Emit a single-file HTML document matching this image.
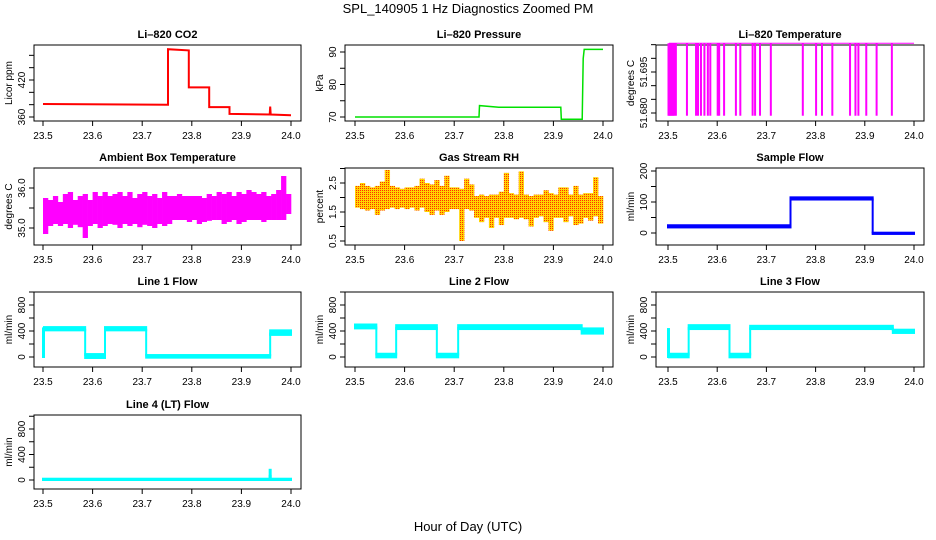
<!DOCTYPE html>
<html><head><meta charset="utf-8"><style>
html,body{margin:0;padding:0;background:#fff}
svg{display:block;font-family:"Liberation Sans",sans-serif}
</style></head><body>
<svg id="c" width="936" height="540" viewBox="0 0 936 540">
<defs>
<pattern id="rhpat" width="2" height="2" patternUnits="userSpaceOnUse">
<rect width="2" height="2" fill="#ffd400"/><rect width="1" height="1" fill="#ff3000"/>
</pattern>
</defs>
<text x="468" y="13" font-size="13" text-anchor="middle">SPL_140905  1 Hz Diagnostics Zoomed PM</text>
<text x="468" y="531" font-size="13" text-anchor="middle">Hour of Day (UTC)</text>
</svg>
<script>
// ---- data ----
const xTicks = [23.5, 23.6, 23.7, 23.8, 23.9, 24.0];
const xTickLabels = ["23.5", "23.6", "23.7", "23.8", "23.9", "24.0"];

const co2X = [23.5, 23.752, 23.752, 23.794, 23.794, 23.835, 23.835, 23.876, 23.876, 23.957, 23.958, 23.959, 24.0];
const co2Y = [381, 380, 470, 468, 408, 408, 376, 376, 365, 364, 377, 364, 363];

const presX = [23.5, 23.75, 23.751, 23.79, 23.915, 23.916, 23.958, 23.96, 23.962, 24.0];
const presY = [70, 70, 73.5, 73, 73, 69.3, 69.3, 88, 90.8, 90.8];

const tempTop = 51.7055;
const tempLow = 51.679;
const tempDrops = [23.501, 23.503, 23.505, 23.507, 23.509, 23.511, 23.513, 23.516, 23.5385, 23.557, 23.561, 23.567, 23.574, 23.581, 23.586, 23.601, 23.604, 23.614, 23.638, 23.647, 23.672, 23.677, 23.687, 23.709, 23.774, 23.801, 23.813, 23.834, 23.870, 23.881, 23.887, 23.903, 23.924, 23.955];

const ambLo = [34.85,35.05,35.1,35.05,35.1,35.0,35.08,35.02,34.75,35.05,35.1,35.0,35.05,35.1,35.08,35.0,35.1,35.05,35.1,35.02,35.08,35.05,35.0,35.1,35.05,35.1,35.2,35.2,35.2,35.15,35.2,35.1,35.15,35.18,35.2,35.2,35.1,35.15,35.2,35.1,35.15,35.2,35.2,35.2,35.15,35.2,35.2,35.2,35.2,35.35];
const ambHi = [35.75,35.7,35.8,35.65,35.85,35.9,35.7,35.8,35.85,35.7,35.9,35.8,35.9,35.8,35.85,35.9,35.8,35.9,35.75,35.85,35.9,35.8,35.85,35.75,35.9,35.8,35.8,35.85,35.8,35.8,35.8,35.8,35.75,35.85,35.8,35.9,35.85,35.9,35.8,35.9,35.85,35.95,35.9,35.85,35.9,35.8,35.85,35.95,36.3,35.85];

const rhLo = [1.65,1.6,1.55,1.6,1.4,1.55,1.6,1.65,1.6,1.65,1.6,1.65,1.55,1.65,1.5,1.4,1.55,1.4,1.5,1.6,1.6,0.5,1.6,1.55,1.3,1.15,1.3,0.95,1.3,1.05,1.3,1.3,1.25,1.3,1.25,1.0,1.3,1.35,1.15,0.85,1.3,1.3,1.15,1.35,1.05,1.1,1.3,1.2,1.35,1.1];
const rhHi = [2.4,2.5,2.4,2.35,2.4,2.55,2.95,2.4,2.35,2.3,2.35,2.35,2.4,2.65,2.5,2.45,2.6,2.4,2.75,2.35,2.35,2.3,2.65,2.45,2.05,2.1,2.05,2.1,2.1,2.2,2.85,2.15,2.1,2.9,2.1,2.05,2.1,2.1,2.25,2.15,2.1,2.35,2.35,2.1,2.4,2.1,2.15,2.15,2.7,2.05];

const sfStart = [23.5, 23.749, 23.916];
const sfEnd   = [23.749, 23.916, 24.0];
const sfLo    = [18, 108, -3];
const sfHi    = [25, 115, 1];

const l1Start = [23.5, 23.502, 23.585, 23.625, 23.708, 23.958];
const l1End   = [23.502, 23.585, 23.625, 23.708, 23.958, 24.0];
const l1Lo    = [0, 410, -15, 410, -10, 340];
const l1Hi    = [440, 460, 45, 460, 30, 410];

const l2Start = [23.5, 23.543, 23.583, 23.665, 23.708, 23.957];
const l2End   = [23.543, 23.583, 23.665, 23.708, 23.957, 24.0];
const l2Lo    = [440, -5, 430, -5, 430, 360];
const l2Hi    = [500, 50, 490, 50, 490, 440];

const l3Start = [23.5, 23.502, 23.542, 23.625, 23.667, 23.957];
const l3End   = [23.502, 23.542, 23.625, 23.667, 23.957, 24.0];
const l3Lo    = [0, -5, 430, -5, 430, 370];
const l3Hi    = [430, 50, 490, 50, 480, 420];

const l4Start = [23.5, 23.957, 23.959];
const l4End   = [23.957, 23.959, 24.0];
const l4Lo    = [0, 0, 0];
const l4Hi    = [20, 160, 20];

const flowTicks = [0, 200, 400, 600, 800, 1000];
const flowLabels = ["0", "", "400", "", "800", ""];

// ---- layout ----
const NS = "http://www.w3.org/2000/svg";
const svg = document.getElementById('c');
const cols = [{l:34,r:301,x0:43,x1:291},{l:345,r:613,x0:355,x1:603},{l:656,r:924,x0:668,x1:914}];
const rows = [{t:45,b:121},{t:168,b:245},{t:292,b:367},{t:415,b:489}];

function el(tag, attrs, parent){
  const e = document.createElementNS(NS, tag);
  for (const k in attrs) e.setAttribute(k, attrs[k]);
  (parent || svg).appendChild(e);
  return e;
}

function panel(ci, ri, name, title, ylab, yMin, yMax, yMinPx, yMaxPx, yTicks, yLabels){
  const c = cols[ci], r = rows[ri];
  const g = el('g', {});
  
  
  const xs = h => c.x0 + (h - 23.5) / 0.5 * (c.x1 - c.x0);
  const ys = v => yMinPx + (v - yMin) / (yMax - yMin) * (yMaxPx - yMinPx);
  const t = el('text', {x:(c.l+c.r)/2, y:r.t-7, 'font-size':11, 'font-weight':'bold', 'text-anchor':'middle'}, g);
  t.textContent = title;
  
  
  const box = el('rect', {x:c.l, y:r.t, width:c.r-c.l, height:r.b-r.t, fill:'none', stroke:'#000', 'stroke-width':1}, g);
  
  
  const xa = el('g', {}, g);
  
  
  xTicks.forEach((v, i) => {
    const x = xs(v);
    el('line', {x1:x, x2:x, y1:r.b, y2:r.b+5, stroke:'#000'}, xa);
    const tl = el('text', {x:x, y:r.b+18, 'font-size':10, 'text-anchor':'middle'}, xa);
    tl.textContent = xTickLabels[i];
  });
  const ya = el('g', {}, g);
  
  
  yTicks.forEach((v, i) => {
    const y = ys(v);
    el('line', {x1:c.l-5, x2:c.l, y1:y, y2:y, stroke:'#000'}, ya);
    if (yLabels[i]) {
      const tl = el('text', {x:c.l-9, y:y, 'font-size':10, 'text-anchor':'middle', transform:`rotate(-90 ${c.l-9} ${y})`}, ya);
      tl.textContent = yLabels[i];
    }
  });
  const yl = el('text', {x:c.l-22, y:(r.t+r.b)/2, 'font-size':10, 'text-anchor':'middle', transform:`rotate(-90 ${c.l-22} ${(r.t+r.b)/2})`}, g);
  yl.textContent = ylab;
  
  
  const d = el('g', {}, g);
  
  
  return {xs, ys, g:d};
}

function stepLine(p, X, Y, color, w){
  const pts = X.map((x, i) => `${p.xs(x).toFixed(1)},${p.ys(Y[i]).toFixed(1)}`).join(' ');
  el('polyline', {points:pts, fill:'none', stroke:color, 'stroke-width':w}, p.g);
}
function bands(p, S, E, LO, HI, color){
  for (let i = 0; i < S.length; i++){
    const x0 = p.xs(S[i]), x1 = p.xs(E[i]);
    const y0 = p.ys(HI[i]), y1 = p.ys(LO[i]);
    el('rect', {x:x0-1, y:y0-1, width:Math.max(2, x1-x0+2), height:Math.max(2, y1-y0+2), fill:color}, p.g);
    if (i > 0) {
      const xb = p.xs(S[i]);
      const ya = p.ys((LO[i-1]+HI[i-1])/2), yb = p.ys((LO[i]+HI[i])/2);
      el('line', {x1:xb, x2:xb, y1:ya, y2:yb, stroke:color, 'stroke-width':2}, p.g);
    }
  }
}
function binBands(p, LO, HI, color){
  const n = LO.length;
  for (let i = 0; i < n; i++){
    const x0 = p.xs(23.5 + 0.5*i/n), x1 = p.xs(23.5 + 0.5*(i+1)/n);
    const y0 = p.ys(HI[i]), y1 = p.ys(LO[i]);
    el('rect', {x:x0, y:y0, width:x1-x0+0.3, height:y1-y0, fill:color}, p.g);
  }
}

// CO2
let p = panel(0,0,'co2','Li\u2013820 CO2','Licor ppm',360,420,117,80,[360,380,400,420,440,460],["360","","","420","",""]);
stepLine(p, co2X, co2Y, '#ff0000', 2);
// Pressure
p = panel(1,0,'pressure','Li\u2013820 Pressure','kPa',70,90,117,52,[70,75,80,85,90],["70","","80","","90"]);
stepLine(p, presX, presY, '#00e000', 1.5);
// Temperature
p = panel(2,0,'li820-temp','Li\u2013820 Temperature','degrees C',51.680,51.695,113,72,[51.680,51.685,51.690,51.695,51.700,51.705],["51.680","","","51.695","",""]);
el('line', {x1:p.xs(23.502), x2:p.xs(24.0), y1:p.ys(tempTop), y2:p.ys(tempTop), stroke:'#ff00ff', 'stroke-width':1}, p.g);
tempDrops.forEach(h => {
  el('rect', {x:p.xs(h)-1, y:p.ys(tempTop), width:2, height:p.ys(tempLow)-p.ys(tempTop), fill:'#ff00ff'}, p.g);
});
// Ambient
p = panel(0,1,'ambient-temp','Ambient Box Temperature','degrees C',35.0,36.0,228,188,[35.0,35.5,36.0],["35.0","","36.0"]);
binBands(p, ambLo, ambHi, '#ff00ff');
// RH
p = panel(1,1,'gas-rh','Gas Stream RH','percent',0.5,2.5,241,183,[0.5,1.0,1.5,2.0,2.5,3.0],["0.5","","1.5","","2.5",""]);
binBands(p, rhLo, rhHi, 'url(#rhpat)');
// Sample flow
p = panel(2,1,'sample-flow','Sample Flow','ml/min',0,200,233,171,[0,50,100,150,200],["0","","100","","200"]);
bands(p, sfStart, sfEnd, sfLo, sfHi, '#0000ff');
// Line flows
p = panel(0,2,'line1-flow','Line 1 Flow','ml/min',0,800,357,305,flowTicks,flowLabels);
bands(p, l1Start, l1End, l1Lo, l1Hi, '#00ffff');
p = panel(1,2,'line2-flow','Line 2 Flow','ml/min',0,800,357,305,flowTicks,flowLabels);
bands(p, l2Start, l2End, l2Lo, l2Hi, '#00ffff');
p = panel(2,2,'line3-flow','Line 3 Flow','ml/min',0,800,357,305,flowTicks,flowLabels);
bands(p, l3Start, l3End, l3Lo, l3Hi, '#00ffff');
p = panel(0,3,'line4-flow','Line 4 (LT) Flow','ml/min',0,800,480,429,flowTicks,flowLabels);
bands(p, l4Start, l4End, l4Lo, l4Hi, '#00ffff');
</script>
</body></html>
